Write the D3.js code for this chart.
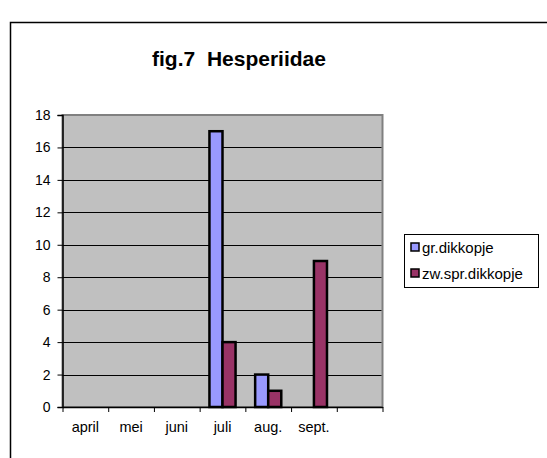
<!DOCTYPE html>
<html>
<head>
<meta charset="utf-8">
<script src="https://cdn.jsdelivr.net/npm/d3@7"></script>
<style>
  body { margin: 0; background: #fff; }
  text { font-family: "Liberation Sans", Arial, sans-serif; fill: #000; white-space: pre; }
</style>
</head>
<body>
<div id="chart"></div>
<script>
// data
var months = ["april", "mei", "juni", "juli", "aug.", "sept.", ""];
var grDikkopje = [0, 0, 0, 17, 2, 0, 0];
var zwSprDikkopje = [0, 0, 0, 4, 1, 9, 0];
var seriesNames = ["gr.dikkopje", "zw.spr.dikkopje"];
var seriesColors = ["#9999FF", "#993366"];
var yTicks = [0, 2, 4, 6, 8, 10, 12, 14, 16, 18];

var width = 547, height = 458;
var plot = { left: 62.5, right: 382.5, top: 115, bottom: 407 };

var svg = d3.select("#chart").append("svg")
    .attr("width", width)
    .attr("height", height);

// chart frame (runs off the picture on the right and bottom)
svg.append("rect")
    .attr("x", 10.5).attr("y", 22.5)
    .attr("width", 600).attr("height", 500)
    .attr("fill", "none")
    .attr("stroke", "#000")
    .attr("stroke-width", 1.5);

svg.append("text")
    .attr("x", 239).attr("y", 66)
    .attr("text-anchor", "middle")
    .attr("xml:space", "preserve")
    .style("font-size", "21px")
    .style("font-weight", "bold")
    .text("fig.7  Hesperiidae");

var y = d3.scaleLinear()
    .domain([0, 18])
    .range([plot.bottom, plot.top]);

var x = d3.scaleBand()
    .domain(d3.range(months.length))
    .range([plot.left, plot.right]);

var xEdge = d3.scaleLinear()
    .domain([0, months.length])
    .range([plot.left, plot.right]);

// plot area
svg.append("rect")
    .attr("x", plot.left).attr("y", plot.top)
    .attr("width", plot.right - plot.left)
    .attr("height", plot.bottom - plot.top)
    .attr("fill", "#C0C0C0")
    .attr("stroke", "#808080")
    .attr("stroke-width", 2);

// gridlines
svg.append("g")
    .selectAll("line")
    .data(yTicks.slice(1, -1))
    .join("line")
    .attr("x1", plot.left).attr("x2", plot.right - 1)
    .attr("y1", function(d) { return Math.round(y(d)) + 0.5; })
    .attr("y2", function(d) { return Math.round(y(d)) + 0.5; })
    .attr("stroke", "#000")
    .attr("stroke-width", 1);

// bars
var bw = x.bandwidth() / 3.5;
var allSeries = [grDikkopje, zwSprDikkopje];
allSeries.forEach(function(vals, s) {
    var pts = vals.map(function(v, i) { return { i: i, v: v }; })
        .filter(function(d) { return d.v > 0; });
    svg.append("g")
        .selectAll("rect")
        .data(pts)
        .join("rect")
        .attr("x", function(d) { return x(d.i) + x.bandwidth() / 2 - bw + s * bw; })
        .attr("y", function(d) { return y(d.v); })
        .attr("width", bw)
        .attr("height", function(d) { return y(0) - y(d.v); })
        .attr("fill", seriesColors[s])
        .attr("stroke", "#000")
        .attr("stroke-width", 2.5);
});

// y axis
var yAxis = svg.append("g")
    .attr("transform", "translate(" + plot.left + ",0)")
    .call(d3.axisLeft(y).tickValues(yTicks).tickSize(5).tickPadding(7).tickFormat(d3.format("d")));
yAxis.selectAll("text").style("font-size", "14px");
yAxis.selectAll("path, line").attr("stroke", "#000");
yAxis.select(".domain").attr("stroke-width", 1.5);

// x axis: ticks on category borders
var xAxis = svg.append("g")
    .attr("transform", "translate(0," + plot.bottom + ")")
    .call(d3.axisBottom(xEdge).tickValues(d3.range(months.length + 1)).tickSize(5).tickSizeOuter(0).tickFormat(""));
xAxis.selectAll("path, line").attr("stroke", "#000");
xAxis.select(".domain").attr("stroke-width", 1.5);

var xLabels = svg.append("g")
    .attr("transform", "translate(0," + plot.bottom + ")")
    .call(d3.axisBottom(x).tickSize(0).tickPadding(15).tickFormat(function(i) { return months[i]; }));
xLabels.select(".domain").remove();
xLabels.selectAll("text").style("font-size", "14.5px");

// legend
var legend = svg.append("g").attr("transform", "translate(404,234)");
legend.append("rect")
    .attr("x", 0.5).attr("y", 0.5)
    .attr("width", 134).attr("height", 53)
    .attr("fill", "#fff")
    .attr("stroke", "#000")
    .attr("stroke-width", 1);

var item = legend.selectAll("g.item")
    .data(seriesNames)
    .join("g")
    .attr("class", "item")
    .attr("transform", function(d, i) { return "translate(0," + (13 + i * 26) + ")"; });
item.append("rect")
    .attr("x", 7).attr("y", -4)
    .attr("width", 8).attr("height", 8)
    .attr("fill", function(d, i) { return seriesColors[i]; })
    .attr("stroke", "#000")
    .attr("stroke-width", 1.5);
item.append("text")
    .attr("x", 18).attr("y", 5.5)
    .style("font-size", "15px")
    .text(function(d) { return d; });
</script>
</body>
</html>
